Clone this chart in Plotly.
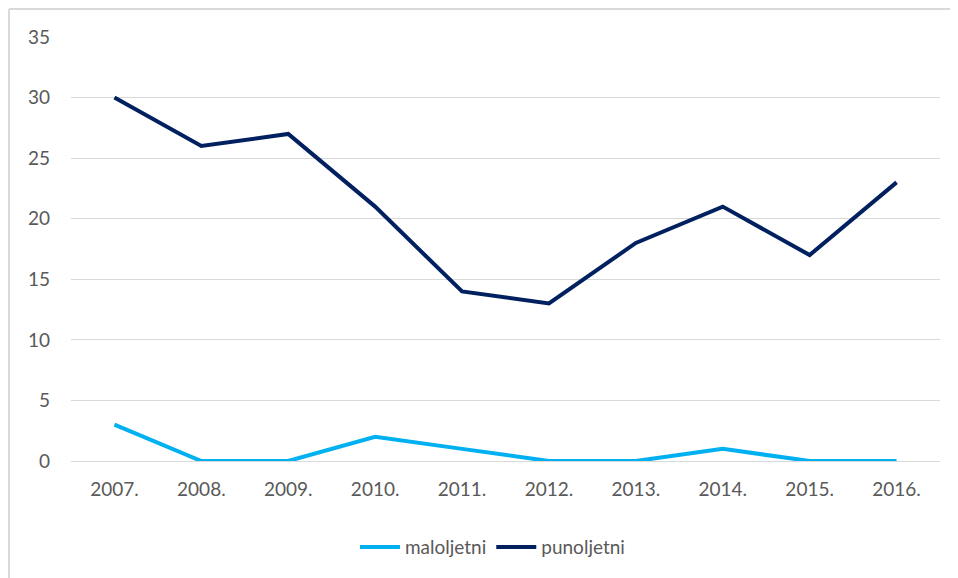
import plotly.graph_objects as go

years = ["2007.", "2008.", "2009.", "2010.", "2011.", "2012.", "2013.", "2014.", "2015.", "2016."]
maloljetni = [3, 0, 0, 2, 1, 0, 0, 1, 0, 0]
punoljetni = [30, 26, 27, 21, 14, 13, 18, 21, 17, 23]
y_ticks = [0, 5, 10, 15, 20, 25, 30, 35]

# page has an 8px body margin, so the figure is sized to the visible window
W, H = 950, 570
L, R, T, B = 63, 18, 29, 117
pw, ph = W - L - R, H - T - B

fig = go.Figure()
fig.add_trace(go.Scatter(x=years, y=maloljetni, mode="lines", name="maloljetni",
                         line=dict(color="#00B0F0", width=4)))
fig.add_trace(go.Scatter(x=years, y=punoljetni, mode="lines", name="punoljetni",
                         line=dict(color="#002060", width=4)))

font = dict(family="Lato, Open Sans, sans-serif", size=19, color="#595959")

fig.update_layout(
    width=W, height=H,
    margin=dict(l=L, r=R, t=T, b=B),
    paper_bgcolor="white", plot_bgcolor="white",
    font=font,
    showlegend=True,
    legend=dict(orientation="h", x=0.485, xanchor="center", y=-0.203, yanchor="middle",
                font=font, itemwidth=40, tracegroupgap=0),
    xaxis=dict(type="category", range=[-0.5, 9.5], showgrid=False, showline=False,
               ticks="", ticklabelstandoff=15, tickfont=font, fixedrange=True),
    yaxis=dict(range=[0, 35], tickvals=y_ticks, showgrid=True, gridcolor="#D9D9D9",
               gridwidth=1, zeroline=True, zerolinecolor="#D9D9D9", zerolinewidth=1,
               showline=False, ticks="", ticklabelstandoff=20, tickfont=font),
)

# outer chart border along the figure's left and top edges
x_left = (1 - L) / pw
y_top = (H - B - 1) / ph
fig.add_shape(type="line", xref="paper", yref="paper", x0=x_left, x1=x_left,
              y0=y_top, y1=-1, line=dict(color="#D9D9D9", width=2))
fig.add_shape(type="line", xref="paper", yref="paper", x0=x_left, x1=2,
              y0=y_top, y1=y_top, line=dict(color="#D9D9D9", width=2))

fig.write_html("out.html")
